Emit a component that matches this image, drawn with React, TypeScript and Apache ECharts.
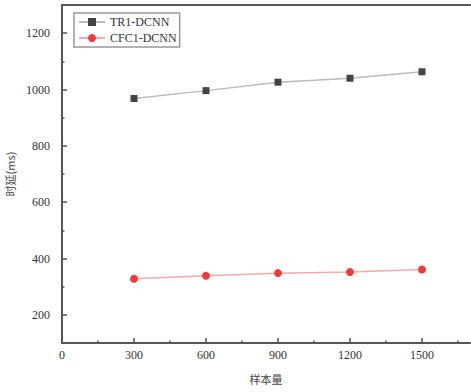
import React, { useEffect, useRef } from "react";
import * as echarts from "echarts";

const sampleSizes = [300, 600, 900, 1200, 1500];
const tr1Values = [968, 996, 1026, 1040, 1063];
const cfc1Values = [328, 339, 348, 352, 361];
const xMajorTicks = [300, 600, 900, 1200, 1500];
const xMinorTicks = [150, 450, 750, 1050, 1350, 1650];
const yMajorTicks = [200, 400, 600, 800, 1000, 1200];
const yMinorTicks = [300, 500, 700, 900, 1100];

const FONT = "Liberation Serif";

export default function App() {
  const ref = useRef<HTMLDivElement>(null);
  useEffect(() => {
    const chart = echarts.init(ref.current!, null, { renderer: "svg" });
    const axisLine = { show: true, lineStyle: { color: "#555", width: 2 } };
    const tickStyle = { color: "#555", width: 1.5 };
    const X = { type: "value", min: 0, max: 1700, splitLine: { show: false } };
    const Y = { type: "value", min: 100, max: 1300, splitLine: { show: false } };
    const tickAxis = (base: any, values: number[], length: number, position?: string) => ({
      ...base,
      ...(position ? { position } : {}),
      axisLine: { show: false },
      axisLabel: { show: false },
      axisTick: { show: true, inside: true, length, customValues: values, lineStyle: tickStyle },
    });
    chart.setOption({
      animation: false,
      backgroundColor: "#fff",
      grid: { left: 62, right: 1, top: 5, bottom: 49, outerBoundsMode: "none" },
      legend: {
        left: 74,
        top: 13,
        orient: "vertical",
        padding: [3, 3, 3, 4],
        itemGap: 4,
        itemWidth: 26,
        itemHeight: 10,
        borderColor: "#999",
        borderWidth: 1.5,
        textStyle: { fontFamily: FONT, fontSize: 12, color: "#333" },
        data: ["TR1-DCNN", "CFC1-DCNN"],
      },
      xAxis: [
        {
          ...X,
          interval: 300,
          position: "bottom",
          name: "样本量",
          nameLocation: "middle",
          nameGap: 30,
          nameTextStyle: { fontFamily: "Noto Sans CJK SC", fontSize: 11, color: "#444" },
          axisLine,
          axisTick: { show: false },
          axisLabel: {
            showMaxLabel: false,
            fontFamily: FONT,
            fontSize: 12,
            color: "#333",
            margin: 6,
            formatter: (v: number) => (v % 300 === 0 && v <= 1500 ? String(v) : ""),
          },
        },
        tickAxis(X, xMajorTicks, 5, "bottom"),
        tickAxis(X, xMinorTicks, 2.5, "bottom"),
        {
          ...X,
          position: "top",
          axisLine,
          axisTick: { show: false },
          axisLabel: { show: false },
        },
      ],
      yAxis: [
        {
          ...Y,
          interval: 100,
          position: "left",
          name: "时延(ms)",
          nameLocation: "middle",
          nameGap: 40,
          nameRotate: 90,
          nameTextStyle: { fontFamily: "Noto Sans CJK SC", fontSize: 11, color: "#444" },
          axisLine,
          axisTick: { show: false },
          axisLabel: {
            fontFamily: FONT,
            fontSize: 12,
            color: "#333",
            margin: 12,
            formatter: (v: number) => (v % 200 === 0 && v >= 200 && v <= 1200 ? String(v) : ""),
          },
        },
        tickAxis(Y, yMajorTicks, 5, "left"),
        tickAxis(Y, yMinorTicks, 2.5, "left"),
      ],
      series: [
        {
          name: "TR1-DCNN",
          type: "line",
          data: sampleSizes.map((x, i) => [x, tr1Values[i]]),
          symbol: "rect",
          symbolSize: 7,
          lineStyle: { color: "#bbb", width: 1.5 },
          itemStyle: { color: "#444" },
        },
        {
          name: "CFC1-DCNN",
          type: "line",
          data: sampleSizes.map((x, i) => [x, cfc1Values[i]]),
          symbol: "circle",
          symbolSize: 8,
          lineStyle: { color: "#f7a8a8", width: 1.5 },
          itemStyle: { color: "#f03a3a" },
        },
      ],
    });
    return () => chart.dispose();
  }, []);
  return (
    <div
      ref={ref}
      style={{ position: "fixed", left: 0, top: 0, width: 471, height: 392 }}
    />
  );
}
